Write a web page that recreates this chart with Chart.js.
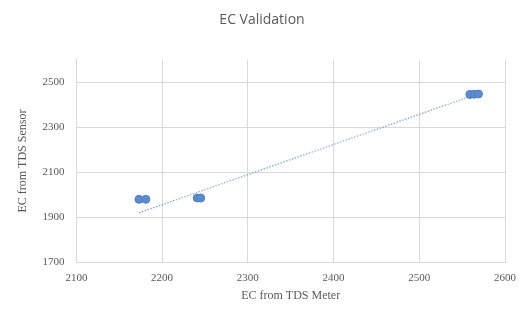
<!DOCTYPE html>
<html>
<head>
<meta charset="utf-8">
<script src="https://cdn.jsdelivr.net/npm/chart.js@4/dist/chart.umd.min.js"></script>
<style>
  html, body { margin: 0; padding: 0; background: #ffffff; }
  #wrap { width: 525px; height: 309px; }
</style>
</head>
<body>
<div id="wrap"><canvas id="ec-graph" width="525" height="309"></canvas></div>
<script>
// readings: meter (x) vs sensor (y)
var meterEC = [2173, 2181, 2241, 2245, 2559, 2564, 2569];
var sensorEC = [1980, 1980, 1986, 1986, 2446, 2447, 2448];
// linear trendline ends
var trendX = [2173, 2569];
var trendY = [1920, 2450];
var xTicks = [2100, 2200, 2300, 2400, 2500, 2600];
var yTicks = [1700, 1900, 2100, 2300, 2500];

var points = meterEC.map(function(x, i) { return { x: x, y: sensorEC[i] }; });
var trend = trendX.map(function(x, i) { return { x: x, y: trendY[i] }; });

var plain = function(v) { return String(v); };

var ctx = document.getElementById('ec-graph').getContext('2d');
var ec_graph = new Chart(ctx, {
    type: 'scatter',
    data: {
        datasets: [{
            label: 'EC',
            data: points,
            backgroundColor: '#5b8bd0',
            borderColor: '#4f7fc4',
            borderWidth: 1,
            pointRadius: 4,
            order: 1
        }, {
            label: 'Trend',
            type: 'line',
            data: trend,
            borderColor: '#7fa6dc',
            borderWidth: 1.2,
            borderDash: [1.5, 1.5],
            pointRadius: 0,
            fill: false,
            order: 2
        }]
    },
    options: {
        responsive: false,
        animation: false,
        layout: { padding: { left: 16, right: 17, top: 0, bottom: 6 } },
        plugins: {
            legend: { display: false },
            tooltip: { enabled: false },
            title: {
                display: true,
                text: 'EC Validation',
                color: '#595959',
                font: { family: 'Open Sans', size: 14, weight: 'normal' },
                padding: { top: 12, bottom: 31 }
            }
        },
        scales: {
            x: {
                type: 'linear',
                min: 2100,
                max: 2600,
                afterBuildTicks: function(axis) {
                    axis.ticks = xTicks.map(function(v) { return { value: v }; });
                },
                grid: { color: '#d9d9d9', drawTicks: false },
                border: { color: '#d9d9d9' },
                ticks: {
                    color: '#595959',
                    font: { family: 'Liberation Serif', size: 11 },
                    padding: 9,
                    callback: plain
                },
                title: {
                    display: true,
                    text: 'EC from TDS Meter',
                    color: '#595959',
                    font: { family: 'Liberation Serif', size: 12 },
                    padding: { top: -5, bottom: 0 }
                }
            },
            y: {
                type: 'linear',
                min: 1700,
                max: 2600,
                afterBuildTicks: function(axis) {
                    axis.ticks = yTicks.map(function(v) { return { value: v }; });
                },
                grid: { color: '#d9d9d9', drawTicks: false },
                border: { color: '#d9d9d9' },
                ticks: {
                    color: '#595959',
                    font: { family: 'Liberation Serif', size: 11 },
                    padding: 12,
                    callback: plain
                },
                title: {
                    display: true,
                    text: 'EC from TDS Sensor',
                    color: '#595959',
                    font: { family: 'Liberation Serif', size: 12 },
                    padding: { top: 0, bottom: 0 }
                }
            }
        }
    }
});
</script>
</body>
</html>
